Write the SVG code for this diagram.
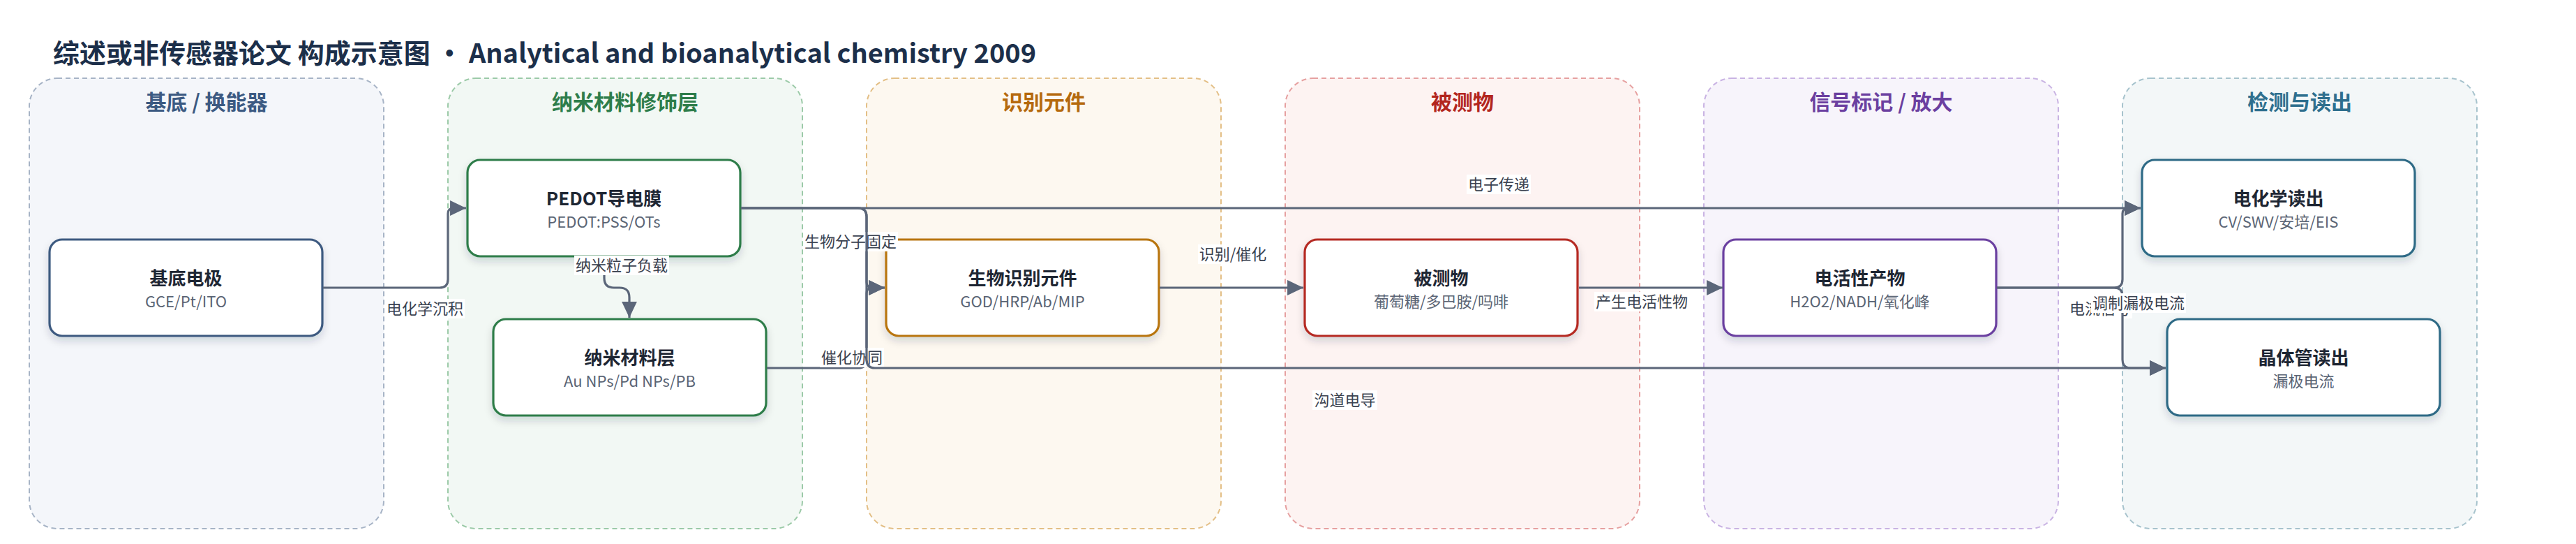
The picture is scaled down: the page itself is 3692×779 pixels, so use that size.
<svg xmlns="http://www.w3.org/2000/svg" width="3692" height="779" viewBox="0 0 3692 779">
<defs>
<style>
text{font-family:"Noto Sans CJK SC","Noto Sans",sans-serif}
.title{font-size:38px;font-weight:700;fill:#1c2f4a}
.lane{stroke-width:2;stroke-dasharray:7 5}
.lt{font-size:30px;font-weight:700;text-anchor:middle}
.node rect{fill:#fff;stroke-width:3.2}
.nt{font-size:26px;font-weight:700;fill:#1e2633;text-anchor:middle}
.ns{font-size:22px;fill:#5a6474;text-anchor:middle}
.edge{fill:none;stroke:#5b6679;stroke-width:3.2}
.lbg{fill:#fff}
.lbl{font-size:22px;fill:#3a4250;text-anchor:middle}
</style>
<marker id="arr" markerUnits="userSpaceOnUse" markerWidth="24" markerHeight="24" viewBox="0 0 22 22" refX="21" refY="11" orient="auto">
<path d="M0,1 L21,11 L0,21 z" fill="#5b6679"/>
</marker>
<filter id="sh" x="-10%" y="-20%" width="120%" height="150%">
<feDropShadow dx="0" dy="6" stdDeviation="6" flood-color="#1e293b" flood-opacity="0.16"/>
</filter>
</defs>
<rect width="3692" height="779" fill="#fff"/>
<text class="title" x="76" y="90">综述或非传感器论文 构成示意图 · Analytical and bioanalytical chemistry 2009</text>

<g id="lanes">
<g id="lane1"><rect class="lane" x="42" y="112" width="508" height="645" rx="40" fill="#f4f6fa" stroke="#a7b4c6"/><text class="lt" x="296" y="157" fill="#3c5a82">基底 / 换能器</text></g>
<g id="lane2"><rect class="lane" x="642" y="112" width="508" height="645" rx="40" fill="#f2f8f4" stroke="#9ccaa8"/><text class="lt" x="896" y="157" fill="#2e7d4a">纳米材料修饰层</text></g>
<g id="lane3"><rect class="lane" x="1242" y="112" width="508" height="645" rx="40" fill="#fdf8f0" stroke="#e3bf86"/><text class="lt" x="1496" y="157" fill="#b5690d">识别元件</text></g>
<g id="lane4"><rect class="lane" x="1842" y="112" width="508" height="645" rx="40" fill="#fdf3f2" stroke="#e6a0a0"/><text class="lt" x="2096" y="157" fill="#b3261e">被测物</text></g>
<g id="lane5"><rect class="lane" x="2442" y="112" width="508" height="645" rx="40" fill="#f7f4fb" stroke="#c9b3e3"/><text class="lt" x="2696" y="157" fill="#6b3fa0">信号标记 / 放大</text></g>
<g id="lane6"><rect class="lane" x="3042" y="112" width="508" height="645" rx="40" fill="#f3f7f8" stroke="#a7c3cd"/><text class="lt" x="3296" y="157" fill="#2e6f8e">检测与读出</text></g>
</g>

<g id="node-substrate" class="node"><rect x="71" y="343" width="391" height="138" rx="18" stroke="#3d5a80" filter="url(#sh)"/><text class="nt" x="266.5" y="408">基底电极</text><text class="ns" x="266.5" y="440">GCE/Pt/ITO</text></g>
<g id="node-pedot" class="node"><rect x="670" y="229" width="391" height="138" rx="18" stroke="#2e7d4a" filter="url(#sh)"/><text class="nt" x="865.5" y="294">PEDOT导电膜</text><text class="ns" x="865.5" y="326">PEDOT:PSS/OTs</text></g>
<g id="node-nano" class="node"><rect x="707" y="457" width="391" height="138" rx="18" stroke="#2e7d4a" filter="url(#sh)"/><text class="nt" x="902.5" y="522">纳米材料层</text><text class="ns" x="902.5" y="554">Au NPs/Pd NPs/PB</text></g>
<g id="node-bio" class="node"><rect x="1270" y="343" width="391" height="138" rx="18" stroke="#b87410" filter="url(#sh)"/><text class="nt" x="1465.5" y="408">生物识别元件</text><text class="ns" x="1465.5" y="440">GOD/HRP/Ab/MIP</text></g>
<g id="node-analyte" class="node"><rect x="1870" y="343" width="391" height="138" rx="18" stroke="#b52a24" filter="url(#sh)"/><text class="nt" x="2065.5" y="408">被测物</text><text class="ns" x="2065.5" y="440">葡萄糖/多巴胺/吗啡</text></g>
<g id="node-product" class="node"><rect x="2470" y="343" width="391" height="138" rx="18" stroke="#6b3fa0" filter="url(#sh)"/><text class="nt" x="2665.5" y="408">电活性产物</text><text class="ns" x="2665.5" y="440">H2O2/NADH/氧化峰</text></g>
<g id="node-ec" class="node"><rect x="3070" y="229" width="391" height="138" rx="18" stroke="#2f6b86" filter="url(#sh)"/><text class="nt" x="3265.5" y="294">电化学读出</text><text class="ns" x="3265.5" y="326">CV/SWV/安培/EIS</text></g>
<g id="node-tr" class="node"><rect x="3106" y="457" width="391" height="138" rx="18" stroke="#2f6b86" filter="url(#sh)"/><text class="nt" x="3301.5" y="522">晶体管读出</text><text class="ns" x="3301.5" y="554">漏极电流</text></g>

<g id="connectors">
<g><path class="edge" d="M463,412 H630 Q642,412 642,400 V306 Q642,298 650,298 H668" marker-end="url(#arr)"/>
<rect class="lbg" x="552" y="428" width="114" height="28"/><text class="lbl" x="609" y="450">电化学沉积</text></g>
<g><path class="edge" d="M866,369 V398 Q866,412 880,412 H888 Q902,412 902,426 V455" marker-end="url(#arr)"/>
<rect class="lbg" x="823" y="366" width="136" height="28"/><text class="lbl" x="891" y="388">纳米粒子负载</text></g>
<g><path class="edge" d="M1062,298 H3068" marker-end="url(#arr)"/>
<rect class="lbg" x="2102" y="250" width="92" height="28"/><text class="lbl" x="2148" y="272">电子传递</text></g>
<g><path class="edge" d="M1062,298 H1230 Q1242,298 1242,310 V404 Q1242,412 1250,412 H1268" marker-end="url(#arr)"/>
<rect class="lbg" x="1151" y="332" width="136" height="28"/><text class="lbl" x="1219" y="354">生物分子固定</text></g>
<g><path class="edge" d="M1099,527 H1230 Q1242,527 1242,515 V420 Q1242,412 1250,412 H1268" marker-end="url(#arr)"/>
<rect class="lbg" x="1175" y="498" width="92" height="28"/><text class="lbl" x="1221" y="520">催化协同</text></g>
<g><path class="edge" d="M1062,298 H1230 Q1242,298 1242,310 V515 Q1242,527 1254,527 H3104" marker-end="url(#arr)"/>
<rect class="lbg" x="1881" y="559" width="93" height="28"/><text class="lbl" x="1927.5" y="581">沟道电导</text></g>
<g><path class="edge" d="M1662,412 H1868" marker-end="url(#arr)"/>
<rect class="lbg" x="1717" y="350" width="100" height="28"/><text class="lbl" x="1767" y="372">识别/催化</text></g>
<g><path class="edge" d="M2263,412 H2469" marker-end="url(#arr)"/>
<rect class="lbg" x="2285" y="418" width="136" height="28"/><text class="lbl" x="2353" y="440">产生电活性物</text></g>
<g><path class="edge" d="M2862,412 H3030 Q3042,412 3042,400 V306 Q3042,298 3050,298 H3068" marker-end="url(#arr)"/>
<rect class="lbg" x="2964" y="428" width="92" height="28"/><text class="lbl" x="3010" y="450">电流信号</text></g>
<g><path class="edge" d="M2862,412 H3030 Q3042,412 3042,424 V515 Q3042,527 3054,527 H3104" marker-end="url(#arr)"/>
<rect class="lbg" x="2997" y="420" width="136" height="28"/><text class="lbl" x="3065" y="442">调制漏极电流</text></g>
</g>
</svg>
